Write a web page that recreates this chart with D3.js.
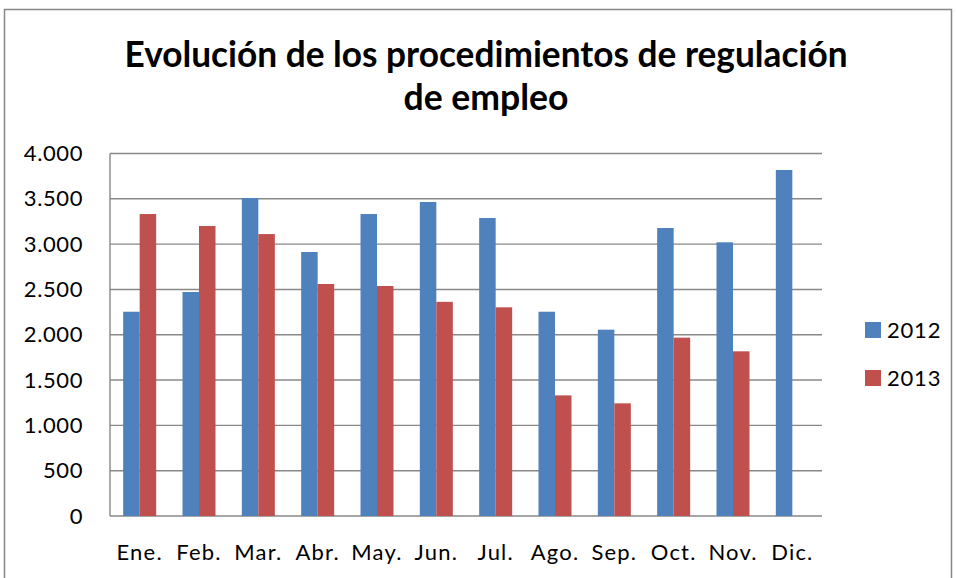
<!DOCTYPE html>
<html>
<head>
<meta charset="utf-8">
<script src="https://cdn.jsdelivr.net/npm/d3@7"></script>
<style>
  html, body { margin: 0; padding: 0; background: #fff; }
  svg { display: block; font-family: Lato, "Open Sans", sans-serif; }
</style>
</head>
<body>
<div id="chart"></div>
<script>
(function () {
  'use strict';

  var months = ['Ene.', 'Feb.', 'Mar.', 'Abr.', 'May.', 'Jun.', 'Jul.', 'Ago.', 'Sep.', 'Oct.', 'Nov.', 'Dic.'];
  var seriesNames = ['2012', '2013'];
  var values2012 = [2254, 2472, 3509, 2913, 3332, 3465, 3288, 2254, 2056, 3178, 3020, 3818];
  var values2013 = [3332, 3200, 3111, 2560, 2538, 2363, 2303, 1331, 1243, 1968, 1817, null];
  var yTicks = [0, 500, 1000, 1500, 2000, 2500, 3000, 3500, 4000];
  var titleLines = ['Evolución de los procedimientos de regulación', 'de empleo'];
  var colors = ['#4F81BD', '#C0504D'];

  var width = 956, height = 578;
  var margin = { top: 153.5, right: 134, bottom: 62, left: 110 };
  var iw = width - margin.left - margin.right;
  var ih = height - margin.top - margin.bottom;

  var svg = d3.select('#chart').append('svg').attr('width', width).attr('height', height);

  // chart frame
  svg.append('rect').attr('x', 4.5).attr('y', 9.5).attr('width', 947).attr('height', 620)
    .attr('fill', '#fff').attr('stroke', '#868686').attr('stroke-width', 1.5);

  // title
  var titleWidths = [723, 165];
  titleLines.forEach(function (t, i) {
    svg.append('text').attr('x', 486).attr('y', 67 + i * 43)
      .attr('text-anchor', 'middle').attr('font-size', 37).attr('font-weight', 'bold')
      .attr('fill', '#000')
      .attr('textLength', titleWidths[i]).attr('lengthAdjust', 'spacingAndGlyphs')
      .text(t);
  });

  var x0 = d3.scaleBand().domain(months).range([0, iw]);
  var x1 = d3.scaleBand().domain(seriesNames).range([x0.bandwidth() / 2 - 16.5, x0.bandwidth() / 2 + 16.5]);
  var y = d3.scaleLinear().domain([0, 4000]).range([ih, 0]);

  var g = svg.append('g').attr('transform', 'translate(' + margin.left + ',' + margin.top + ')');

  // gridlines
  g.append('g').selectAll('line').data(yTicks).enter().append('line')
    .attr('x1', 0).attr('x2', iw)
    .attr('y1', function (d) { return y(d); }).attr('y2', function (d) { return y(d); })
    .attr('stroke', '#888').attr('stroke-width', 1.4);

  // left axis line
  g.append('line').attr('x1', 0).attr('x2', 0).attr('y1', 0).attr('y2', ih)
    .attr('stroke', '#888').attr('stroke-width', 1.4);

  // bars
  [values2012, values2013].forEach(function (vals, si) {
    var data = vals.map(function (v, i) { return { month: months[i], value: v }; })
      .filter(function (d) { return d.value != null; });
    g.append('g').selectAll('rect').data(data).enter().append('rect')
      .attr('x', function (d) { return x0(d.month) + x1(seriesNames[si]); })
      .attr('y', function (d) { return y(d.value); })
      .attr('width', x1.bandwidth())
      .attr('height', function (d) { return ih - y(d.value); })
      .attr('fill', colors[si]);
  });

  // axes labels
  var yAxis = d3.axisLeft(y).tickValues(yTicks).tickSize(0).tickPadding(27)
    .tickFormat(function (d) { return d3.format(',')(d).replace(/,/g, '.'); });
  var ya = g.append('g').call(yAxis);
  ya.select('.domain').remove();
  ya.selectAll('text').attr('font-size', 22).attr('fill', '#000')
    .attr('font-family', 'Lato, sans-serif').attr('letter-spacing', 0.6);

  var xAxis = d3.axisBottom(x0).tickSize(0).tickPadding(28);
  var xa = g.append('g').attr('transform', 'translate(0,' + ih + ')').call(xAxis);
  xa.select('.domain').remove();
  xa.selectAll('text').attr('font-size', 22).attr('fill', '#000')
    .attr('font-family', 'Lato, sans-serif').attr('letter-spacing', 1.2);

  // legend
  var legend = svg.append('g').attr('transform', 'translate(865,322)');
  seriesNames.forEach(function (s, i) {
    var row = legend.append('g').attr('transform', 'translate(0,' + i * 48 + ')');
    row.append('rect').attr('width', 16).attr('height', 16).attr('fill', colors[i]);
    row.append('text').attr('x', 22).attr('y', 16).attr('font-size', 22)
      .attr('letter-spacing', 0.8).attr('fill', '#000').text(s);
  });
})();
</script>
</body>
</html>
